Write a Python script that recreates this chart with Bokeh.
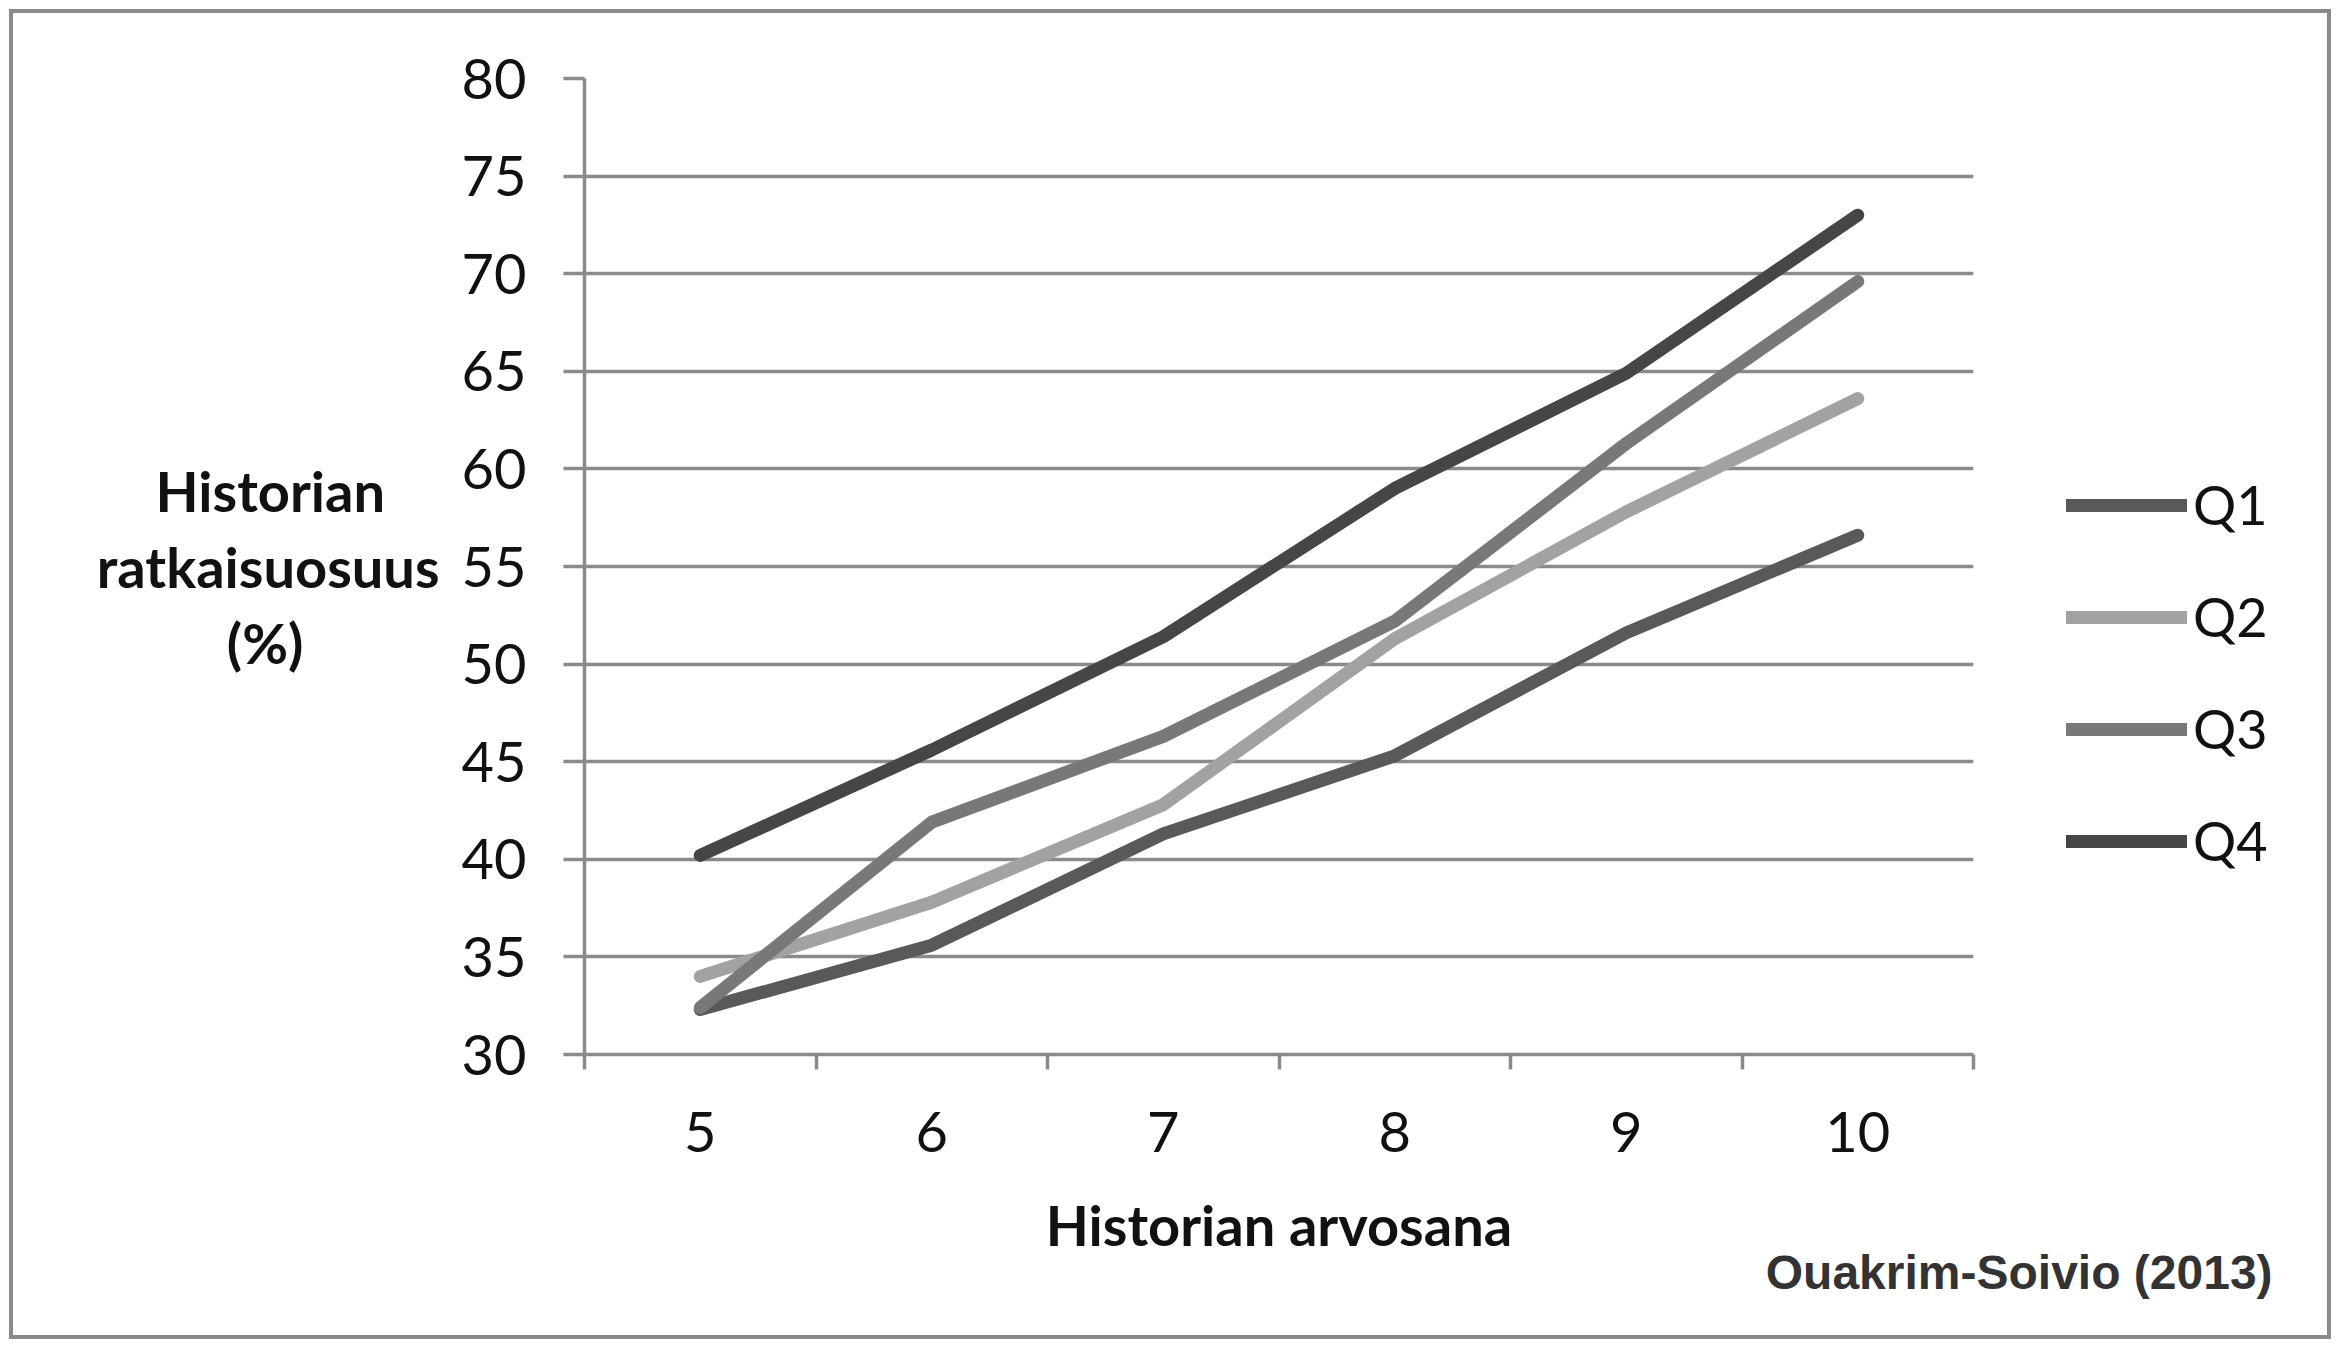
from bokeh.plotting import figure
from bokeh.models import (Range1d, FixedTicker, Legend, LegendItem, LinearAxis)
from bokeh.embed import file_html
from bokeh.resources import INLINE

# ---- data ----
grades = [5, 6, 7, 8, 9, 10]
q1 = [32.3, 35.6, 41.3, 45.3, 51.6, 56.6]
q2 = [34.0, 37.8, 42.8, 51.3, 57.8, 63.6]
q3 = [32.4, 41.9, 46.3, 52.2, 61.3, 69.6]
q4 = [40.2, 45.6, 51.4, 59.0, 64.9, 73.0]
series_names = ["Q1", "Q2", "Q3", "Q4"]
y_ticks = [30, 35, 40, 45, 50, 55, 60, 65, 70, 75, 80]
y_title_lines = ["Historian", "ratkaisuosuus", "(%)"]
x_title = "Historian arvosana"
source_text = "Ouakrim-Soivio (2013)"

colors = ["#58595a", "#a1a2a1", "#777877", "#454746"]

W, H = 2340, 1348
FL, FT, FB = 584, 78, 1054

p = figure(width=W, height=H, output_backend="svg", toolbar_location=None,
           x_range=Range1d(grades[0] - 0.5, grades[-1] + 0.5),
           y_range=Range1d(y_ticks[0], y_ticks[-1]),
           min_border_left=FL, min_border_right=0,
           min_border_top=FT, min_border_bottom=H - FB)
p.outline_line_color = None
p.background_fill_color = "white"
p.border_fill_color = None
p.styles = {"outline": "4px solid #8a8a8a", "outline-offset": "-13px"}

FONT = "Lato"
GRID = "#8a8a8a"
INK = "#111111"
nb = "\u00a0"

# y axis
p.yaxis.ticker = FixedTicker(ticks=y_ticks)
p.yaxis.axis_line_color = GRID
p.yaxis.axis_line_width = 3.5
p.yaxis.major_tick_line_color = GRID
p.yaxis.major_tick_line_width = 3.5
p.yaxis.major_tick_out = 21
p.yaxis.major_tick_in = 0
p.yaxis.minor_tick_line_color = None
p.yaxis.major_label_text_font = FONT
p.yaxis.major_label_text_font_size = "56px"
p.yaxis.major_label_text_color = INK
p.yaxis.major_label_standoff = 37
# centre the shorter lines of the horizontal, right-aligned axis title
p.yaxis.axis_label = "\n".join([y_title_lines[0] + nb * 4,
                                y_title_lines[1],
                                y_title_lines[2] + nb * 10])
p.yaxis.axis_label_orientation = "horizontal"
p.yaxis.axis_label_text_font = FONT
p.yaxis.axis_label_text_font_style = "bold"
p.yaxis.axis_label_text_font_size = "56px"
p.yaxis.axis_label_text_line_height = 1.13
p.yaxis.axis_label_text_color = INK
p.yaxis.axis_label_standoff = 19

# x axis
bounds = [g - 0.5 for g in grades] + [grades[-1] + 0.5]
xa = p.xaxis[0]
xa.ticker = FixedTicker(ticks=grades, minor_ticks=bounds)
xa.axis_line_color = GRID
xa.axis_line_width = 3.5
xa.major_tick_line_color = None
xa.major_tick_out = 0
xa.major_tick_in = 0
xa.minor_tick_line_color = GRID
xa.minor_tick_line_width = 3.5
xa.minor_tick_out = 15
xa.minor_tick_in = 0
xa.major_label_text_font = FONT
xa.major_label_text_font_size = "56px"
xa.major_label_text_color = INK
xa.major_label_standoff = 42
xa.axis_label = x_title
xa.axis_label_text_font = FONT
xa.axis_label_text_font_style = "bold"
xa.axis_label_text_font_size = "56px"
xa.axis_label_text_color = INK
xa.axis_label_standoff = 36

# source note: a bare second bottom axis whose label carries the text,
# padded on the left so that it ends near the right edge of the picture
src_axis = LinearAxis(ticker=FixedTicker(ticks=[]),
                      axis_line_color=None, major_tick_line_color=None,
                      minor_tick_line_color=None, major_label_text_alpha=0,
                      major_tick_out=0, major_tick_in=0,
                      minor_tick_out=0, minor_tick_in=0,
                      axis_label=nb * 111 + source_text,
                      axis_label_standoff=-15,
                      axis_label_text_font="Liberation Sans",
                      axis_label_text_font_style="bold",
                      axis_label_text_font_size="48px",
                      axis_label_text_color="#333333")
p.add_layout(src_axis, "below")

p.xgrid.grid_line_color = None
p.ygrid.grid_line_color = GRID
p.ygrid.grid_line_width = 3.5

renderers = []
for name, ys, c in zip(series_names, [q1, q2, q3, q4], colors):
    r = p.line(grades, ys, line_color=c, line_width=13, line_cap="round", line_join="round")
    renderers.append((name, r))

legend = Legend(items=[LegendItem(label=n, renderers=[r]) for n, r in renderers],
                location=(93, 181), padding=0, margin=0,
                glyph_width=121, glyph_height=40, spacing=47,
                label_standoff=6,
                label_text_font=FONT, label_text_font_size="54px",
                label_text_color=INK,
                border_line_color=None, background_fill_alpha=0)
# the side panel reserves more room than the legend needs; a negative margin
# gives that room back to the plot frame
try:
    legend.margin = -107
except Exception:
    legend.margin = 0
p.add_layout(legend, "right")

open("out.html", "w").write(file_html(p, INLINE))
